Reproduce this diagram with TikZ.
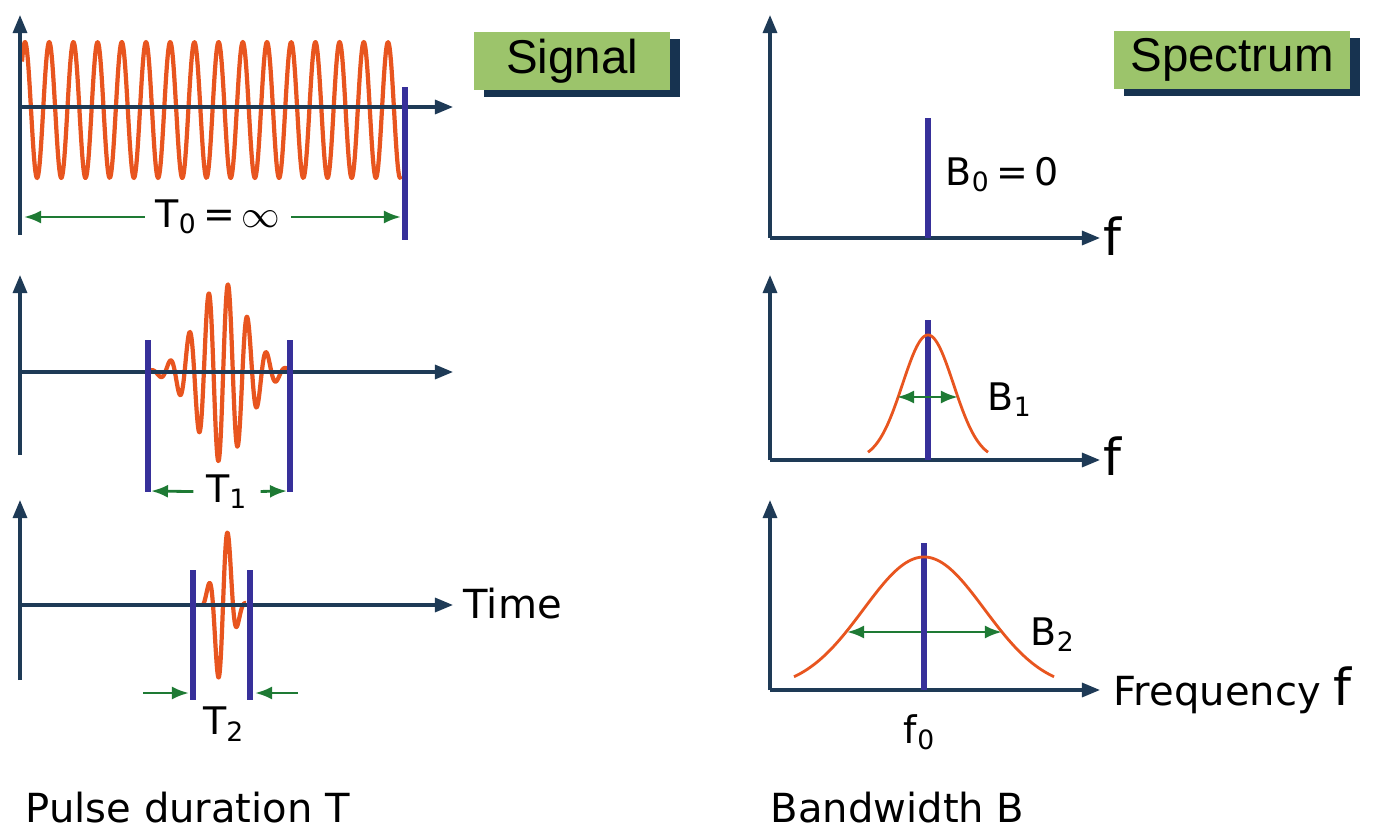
\documentclass[tikz,border=0pt]{standalone}
\usepackage{fontspec}
\setmainfont{Liberation Sans}
\newfontfamily\labelfont{DejaVu Sans}
\usepackage{tikz}
\usetikzlibrary{arrows.meta,positioning,shadows}
\definecolor{axisblue}{HTML}{1E3A56}
\definecolor{barblue}{HTML}{37309A}
\definecolor{waveorange}{HTML}{E8551F}
\definecolor{spangreen}{HTML}{1E7A34}
\definecolor{tagfill}{HTML}{9CC46B}
\definecolor{tagshade}{HTML}{173350}

\begin{document}
\begin{tikzpicture}[x=0.01cm, y=-0.01cm,
  axis/.style={-{Triangle[length=1.8mm,width=1.4mm]}, line width=0.9pt, axisblue},
  bar/.style={line width=1.8pt, barblue},
  wave/.style={line width=1.2pt, waveorange, line join=round},
  spec/.style={line width=0.8pt, waveorange},
  span/.style={-{Latex[length=1.7mm,width=1.3mm]}, line width=0.8pt, spangreen},
  twoway/.style={span, {Latex[length=1.7mm,width=1.3mm]}-{Latex[length=1.7mm,width=1.3mm]}},
  tag/.style={fill=tagfill, minimum height=0.58cm, inner sep=0pt, font=\fontsize{13.5}{16}\selectfont,
    general shadow={fill=tagshade, shadow xshift=1mm, shadow yshift=-0.7mm}},
  lbl/.style={inner sep=0pt, font=\labelfont\fontsize{11.4}{14}\selectfont},
  sub/.style={inner sep=0pt, font=\labelfont\fontsize{10.8}{13}\selectfont},
  flbl/.style={inner sep=0pt, font=\labelfont\fontsize{14.5}{18}\selectfont}
]
  \useasboundingbox (0,0) rectangle (1375,827);

  % signals
  \draw[wave] plot[domain=22:401, samples=600] (\x, {110-68*cos((\x-25)*14.876)});
  \draw[wave] plot[domain=150:288, samples=300]
    (\x, {372-90*exp(-((\x-222)/36)*((\x-222)/36))*cos((\x-228)*18.653)});
  \draw[wave] plot[domain=203:246, samples=150]
    (\x, {605-84*exp(-((\x-223)/12.2)*((\x-223)/12.2))*cos((\x-228)*18)});

  % axes
  \foreach \ya/\yb/\yt in {107/235/15, 372/455/275, 605/680/500} {
    \draw[axis] (20,\yb) -- (20,\yt);
    \draw[axis] (20,\ya) -- (453,\ya);
  }
  \foreach \ya/\yt in {238/15, 460/275, 690/500} {
    \draw[axis] (770,\ya) -- (770,\yt);
    \draw[axis] (770,\ya) -- (1100,\ya);
  }

  % duration bars
  \draw[bar] (405,87) -- (405,240);
  \draw[bar] (148,340) -- (148,492);
  \draw[bar] (290,340) -- (290,492);
  \draw[bar] (193,570) -- (193,700);
  \draw[bar] (250,570) -- (250,700);

  % spectral lines
  \draw[bar] (928,118) -- (928,238);
  \draw[bar] (928,320) -- (928,460);
  \draw[bar] (924,543) -- (924,690);
  \draw[spec] plot[domain=868:988, samples=100] (\x, {460-125*exp(-((\x-928)/36.06)*((\x-928)/36.06))});
  \draw[spec] plot[domain=794:1054, samples=150] (\x, {690-133*exp(-((\x-924)/85.6)*((\x-924)/85.6))});

  % headers
  \node[tag, minimum width=1.95cm] (signal) at (572,61) {Signal};
  \node[tag, minimum width=2.35cm] (spectrum) at (1232,60) {Spectrum};

  % durations
  \coordinate (t0l) at (24,217);
  \coordinate (t0r) at (401,217);
  \node[sub, fill=white, inner xsep=1mm] (t0) at (218,217) {T\textsubscript{0}\,=\,$\infty$};
  \draw[span] (t0) -- (t0l);
  \draw[span] (t0) -- (t0r);

  \coordinate (t1l) at (151,491);
  \coordinate (t1r) at (287,491);
  \node[sub, inner xsep=1.2mm] (t1) at (227,492) {T\textsubscript{1}};
  \draw[span] (t1) -- (t1l);
  \draw[span] (t1) -- (t1r);

  \coordinate (t2a) at (143,693);
  \coordinate (t2b) at (189,693);
  \coordinate (t2c) at (298,693);
  \coordinate (t2d) at (255,693);
  \draw[span] (t2a) -- (t2b);
  \draw[span] (t2c) -- (t2d);
  \node[sub] (t2) at (224,724) {T\textsubscript{2}};

  % bandwidths
  \coordinate (b1l) at (897,397);
  \coordinate (b1r) at (958,397);
  \draw[twoway] (b1l) -- (b1r);
  \coordinate (b2l) at (847,632);
  \coordinate (b2r) at (1002,632);
  \draw[twoway] (b2l) -- (b2r);
  \draw[bar] (924,620) -- (924,645);

  \node[sub, anchor=base west] (b0) at (945,185) {B\textsubscript{0}\,=\,0};
  \node[sub, anchor=base west] (b1) at (987,410) {B\textsubscript{1}};
  \node[sub, anchor=base west] (b2) at (1030,645) {B\textsubscript{2}};
  \node[sub, anchor=base] (f0) at (920,743) {f\textsubscript{0}};

  % axis labels
  \node[lbl, anchor=west] (time) at (463,604) {Time};
  \node[flbl, anchor=base west] (fa) at (1103,255) {f};
  \node[flbl, anchor=base west] (fb) at (1103,475) {f};
  \node[lbl, anchor=base west] (freq) at (1113,705) {Frequency {\fontsize{14.5}{18}\selectfont f}};

  \node[lbl, anchor=base west] (pulse) at (25,822) {Pulse duration T};
  \node[lbl, anchor=base west] (bw) at (770,822) {Bandwidth B};
\end{tikzpicture}
\end{document}
